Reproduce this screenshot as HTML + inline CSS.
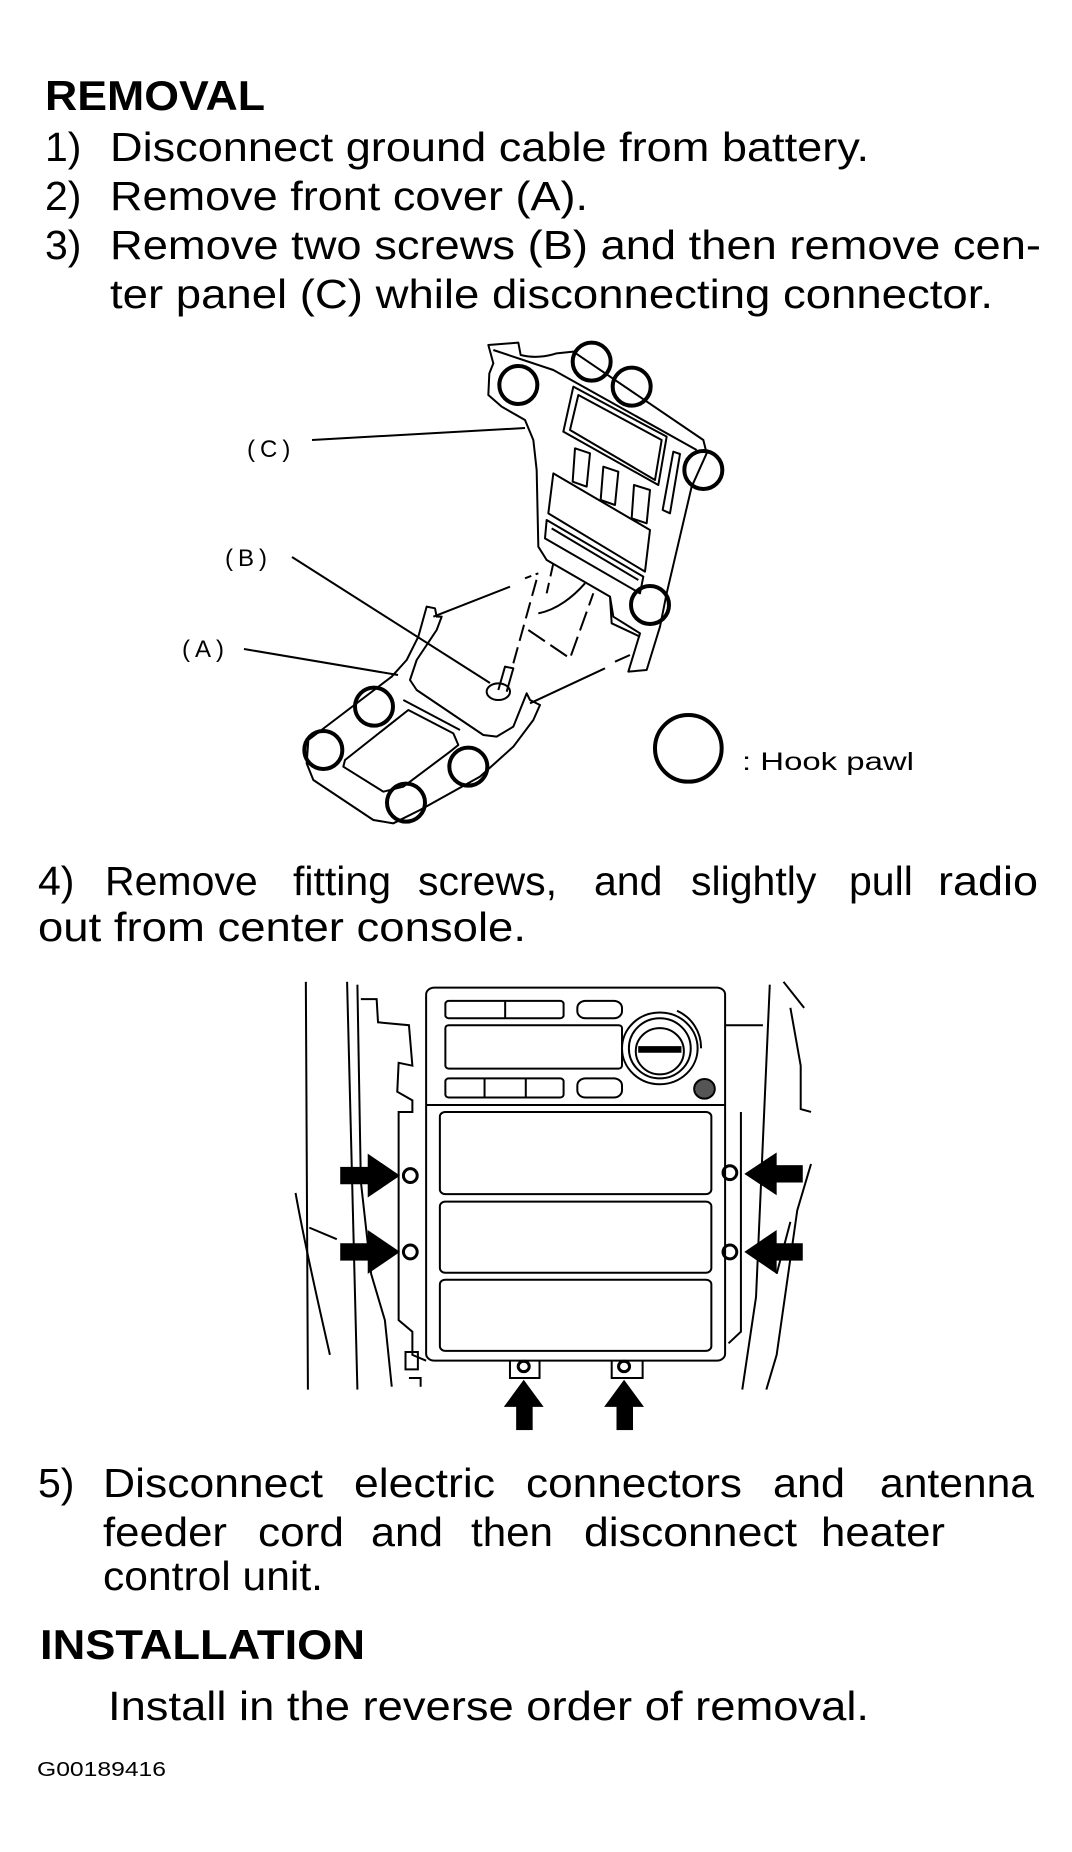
<!DOCTYPE html>
<html><head><meta charset="utf-8"><style>
html,body{margin:0;padding:0;background:#fff;}
svg{display:block;}
text{font-family:"Liberation Sans",Arial,sans-serif;fill:#000;}
.b{font-size:41px;}
.h{font-size:42px;font-weight:bold;}
.l{font-size:24px;letter-spacing:5px;}
</style></head><body>
<svg width="1072" height="1852" viewBox="0 0 1072 1852" xmlns="http://www.w3.org/2000/svg">
<rect width="1072" height="1852" fill="#fff"/>
<text class="h" x="45" y="110" textLength="220" lengthAdjust="spacingAndGlyphs">REMOVAL</text>
<text class="b" x="45" y="161">1)</text>
<text class="b" x="110" y="161" textLength="759" lengthAdjust="spacingAndGlyphs">Disconnect ground cable from battery.</text>
<text class="b" x="45" y="210">2)</text>
<text class="b" x="110" y="210" textLength="478" lengthAdjust="spacingAndGlyphs">Remove front cover (A).</text>
<text class="b" x="45" y="259">3)</text>
<text class="b" x="110" y="259" textLength="931" lengthAdjust="spacingAndGlyphs">Remove two screws (B) and then remove cen-</text>
<text class="b" x="110" y="308" textLength="883" lengthAdjust="spacingAndGlyphs">ter panel (C) while disconnecting connector.</text>

<!-- Diagram 1 -->
<text class="l" x="247" y="457">(C)</text>
<text class="l" x="225" y="566">(B)</text>
<text class="l" x="182" y="657">(A)</text>
<g stroke="#000" fill="none" stroke-width="2">
<line x1="312" y1="440" x2="525" y2="428"/>
<line x1="292" y1="557" x2="490" y2="683"/>
<line x1="244" y1="649" x2="398" y2="675"/>
</g>
<g transform="translate(280 330) scale(0.33333)" stroke="#000" fill="none" stroke-width="6" stroke-linejoin="round">
<path d="M625,45 L715,38 L722,75 C760,85 800,80 830,70 L880,65 L1270,330 L1280,370 L1235,470 L1160,790 L1140,890 L1100,1020 L1045,1025 L1080,910 L1000,860 L990,800 L800,690 L775,650 L770,420 L760,330 L735,270 L665,230 L625,195 L628,130 L640,100 Z"/>
<path d="M640,60 L820,120 L1250,360"/>
<path d="M880,170 L1160,320 L1135,465 L850,305 Z"/>
<path d="M895,195 L1145,330 L1125,450 L870,300 Z"/>
<path d="M885,355 L930,370 L920,470 L878,455 Z"/>
<path d="M970,410 L1015,425 L1005,525 L962,510 Z"/>
<path d="M1062,465 L1110,480 L1100,580 L1055,565 Z"/>
<path d="M1180,365 L1200,372 L1170,550 L1148,540 Z"/>
<path d="M820,430 L1110,600 L1095,725 L805,550 Z"/>
<path d="M800,570 L1090,740 L1080,790 L795,625 Z"/>
<path d="M815,595 L1075,750"/>
<path d="M990,800 L995,880 L1080,920"/>
<path d="M440,830 L465,835 L470,860 L485,860 L470,900 L410,990 L390,1050 L410,1080 L610,1215 L650,1220 L700,1190 L720,1140 L740,1090 L750,1110 L780,1125 L760,1170 L700,1250 L600,1340 L420,1440 L340,1480 L280,1470 L100,1350 L80,1300 L85,1230 L335,1040 L380,990 L415,920 Z"/>
<path d="M385,1140 L520,1210 L535,1245 L510,1265 L370,1370 L310,1385 L190,1310 L195,1290 Z"/>
<path d="M370,1110 L540,1200"/>
<path d="M460,860 L690,770"/>
<path d="M735,745 L775,730" stroke-dasharray="20 14"/>
<path d="M750,1120 L975,1015"/>
<path d="M1005,995 L1050,975"/>
<path d="M700,1000 L775,730" stroke-dasharray="50 20"/>
<path d="M745,900 L870,985 L940,790" stroke-dasharray="60 20"/>
<path d="M775,850 C830,840 880,800 915,760"/>
<path d="M820,700 L800,790" stroke-dasharray="40 20"/>
<path d="M655,1080 L675,1010 L700,1015 L680,1085"/>
<ellipse cx="655" cy="1085" rx="35" ry="25"/>
<g stroke-width="12">
<circle cx="715" cy="165" r="57"/>
<circle cx="935" cy="95" r="57"/>
<circle cx="1055" cy="170" r="57"/>
<circle cx="1270" cy="420" r="57"/>
<circle cx="1110" cy="825" r="57"/>
<circle cx="282" cy="1130" r="57"/>
<circle cx="130" cy="1260" r="57"/>
<circle cx="565" cy="1310" r="57"/>
<circle cx="378" cy="1418" r="57"/>
<circle cx="1225" cy="1255" r="100"/>
</g>
</g>
<text x="742" y="770" style="font-size:25px" textLength="172" lengthAdjust="spacingAndGlyphs">: Hook pawl</text>

<text class="b" x="38" y="895">4)</text>
<text class="b" x="105" y="895">Remove</text>
<text class="b" x="293" y="895">fitting</text>
<text class="b" x="418" y="895">screws,</text>
<text class="b" x="594" y="895">and</text>
<text class="b" x="691" y="895">slightly</text>
<text class="b" x="849" y="895">pull</text>
<text class="b" x="938" y="895" textLength="100" lengthAdjust="spacingAndGlyphs">radio</text>
<text class="b" x="38" y="941" textLength="488" lengthAdjust="spacingAndGlyphs">out from center console.</text>

<!-- Diagram 2 -->
<g transform="translate(0 950) scale(0.6873 0.5784)" stroke="#000" fill="none">
<g stroke-width="2">
<rect x="620" y="65" width="435" height="645" rx="12" vector-effect="non-scaling-stroke"/>
<rect x="648" y="88" width="172" height="30" rx="5" vector-effect="non-scaling-stroke"/>
<line x1="735" y1="88" x2="735" y2="118" vector-effect="non-scaling-stroke"/>
<rect x="840" y="88" width="65" height="30" rx="12" vector-effect="non-scaling-stroke"/>
<rect x="648" y="130" width="257" height="75" rx="5" vector-effect="non-scaling-stroke"/>
<ellipse cx="960" cy="170" rx="55" ry="62" vector-effect="non-scaling-stroke"/>
<ellipse cx="960" cy="170" rx="45" ry="52" vector-effect="non-scaling-stroke"/>
<ellipse cx="960" cy="175" rx="35" ry="40" vector-effect="non-scaling-stroke"/>
<rect x="930" y="168" width="60" height="8" fill="#000" vector-effect="non-scaling-stroke"/>
<path d="M985,105 A60,70 0 0 1 1020,170" vector-effect="non-scaling-stroke"/>
<rect x="648" y="222" width="172" height="33" rx="5" vector-effect="non-scaling-stroke"/>
<line x1="705" y1="222" x2="705" y2="255" vector-effect="non-scaling-stroke"/>
<line x1="765" y1="222" x2="765" y2="255" vector-effect="non-scaling-stroke"/>
<rect x="840" y="222" width="65" height="33" rx="12" vector-effect="non-scaling-stroke"/>
<ellipse cx="1025" cy="240" rx="15" ry="17" fill="#555" vector-effect="non-scaling-stroke"/>
<line x1="620" y1="268" x2="1055" y2="268" vector-effect="non-scaling-stroke"/>
<rect x="640" y="280" width="395" height="142" rx="8" vector-effect="non-scaling-stroke"/>
<rect x="640" y="435" width="395" height="123" rx="8" vector-effect="non-scaling-stroke"/>
<rect x="640" y="570" width="395" height="123" rx="8" vector-effect="non-scaling-stroke"/>
<ellipse cx="597" cy="390" rx="10" ry="12" stroke-width="3" vector-effect="non-scaling-stroke"/>
<ellipse cx="597" cy="522" rx="10" ry="12" stroke-width="3" vector-effect="non-scaling-stroke"/>
<ellipse cx="1062" cy="385" rx="10" ry="12" stroke-width="3" vector-effect="non-scaling-stroke"/>
<ellipse cx="1062" cy="522" rx="10" ry="12" stroke-width="3" vector-effect="non-scaling-stroke"/>
<path d="M742,710 L742,740 L785,740 L785,710" vector-effect="non-scaling-stroke"/>
<ellipse cx="762" cy="720" rx="8" ry="9" stroke-width="3" vector-effect="non-scaling-stroke"/>
<path d="M890,710 L890,740 L935,740 L935,710" vector-effect="non-scaling-stroke"/>
<ellipse cx="908" cy="720" rx="8" ry="9" stroke-width="3" vector-effect="non-scaling-stroke"/>
<path d="M445,55 L448,760" vector-effect="non-scaling-stroke"/>
<path d="M505,55 L520,760" vector-effect="non-scaling-stroke"/>
<path d="M520,60 L525,400 L540,560 L560,640 L570,755" vector-effect="non-scaling-stroke"/>
<path d="M525,85 L548,85 L550,125 L595,130 L600,200 L580,195 L578,245 L600,260 L600,280 L580,280 L580,640 L600,660 L600,700 L620,710" vector-effect="non-scaling-stroke"/>
<path d="M430,420 C445,520 465,620 480,700" vector-effect="non-scaling-stroke"/>
<path d="M450,480 L490,500" vector-effect="non-scaling-stroke"/>
<rect x="590" y="695" width="18" height="30" vector-effect="non-scaling-stroke"/>
<path d="M595,740 L612,740 L612,755" vector-effect="non-scaling-stroke"/>
<path d="M1120,60 L1110,330 L1100,600 L1080,760" vector-effect="non-scaling-stroke"/>
<path d="M1140,55 L1170,100" vector-effect="non-scaling-stroke"/>
<path d="M1055,130 L1110,130" vector-effect="non-scaling-stroke"/>
<path d="M1150,100 L1165,200 L1165,275 L1180,280" vector-effect="non-scaling-stroke"/>
<path d="M1078,280 L1078,660 L1060,680" vector-effect="non-scaling-stroke"/>
<path d="M1180,370 L1160,450 L1130,700 L1115,760" vector-effect="non-scaling-stroke"/>
<path d="M1150,470 L1130,560" vector-effect="non-scaling-stroke"/>
</g>
<g fill="#000" stroke="none">
<rect x="495" y="375" width="42" height="30"/>
<polygon points="535,352 582,390 535,428"/>
<rect x="495" y="507" width="42" height="30"/>
<polygon points="535,484 582,522 535,560"/>
<rect x="1128" y="372" width="40" height="30"/>
<polygon points="1130,350 1083,387 1130,424"/>
<rect x="1128" y="507" width="40" height="30"/>
<polygon points="1130,484 1083,522 1130,560"/>
<rect x="751" y="785" width="24" height="45"/>
<polygon points="733,790 762,743 791,790"/>
<rect x="897" y="785" width="24" height="45"/>
<polygon points="879,790 908,743 937,790"/>
</g>
</g>

<text class="b" x="38" y="1497">5)</text>
<text class="b" x="103" y="1497" textLength="220" lengthAdjust="spacingAndGlyphs">Disconnect</text>
<text class="b" x="354" y="1497" textLength="141" lengthAdjust="spacingAndGlyphs">electric</text>
<text class="b" x="526" y="1497" textLength="216" lengthAdjust="spacingAndGlyphs">connectors</text>
<text class="b" x="773" y="1497" textLength="72" lengthAdjust="spacingAndGlyphs">and</text>
<text class="b" x="880" y="1497" textLength="154" lengthAdjust="spacingAndGlyphs">antenna</text>
<text class="b" x="103" y="1546" textLength="124" lengthAdjust="spacingAndGlyphs">feeder</text>
<text class="b" x="258" y="1546" textLength="86" lengthAdjust="spacingAndGlyphs">cord</text>
<text class="b" x="371" y="1546" textLength="72" lengthAdjust="spacingAndGlyphs">and</text>
<text class="b" x="471" y="1546" textLength="82" lengthAdjust="spacingAndGlyphs">then</text>
<text class="b" x="584" y="1546" textLength="213" lengthAdjust="spacingAndGlyphs">disconnect</text>
<text class="b" x="821" y="1546" textLength="124" lengthAdjust="spacingAndGlyphs">heater</text>
<text class="b" x="103" y="1590" textLength="220" lengthAdjust="spacingAndGlyphs">control unit.</text>

<text class="h" x="40" y="1659" textLength="325" lengthAdjust="spacingAndGlyphs">INSTALLATION</text>
<text class="b" x="108" y="1720" textLength="761" lengthAdjust="spacingAndGlyphs">Install in the reverse order of removal.</text>
<text x="37" y="1776" style="font-size:20px" textLength="129" lengthAdjust="spacingAndGlyphs">G00189416</text>
</svg>
</body></html>
